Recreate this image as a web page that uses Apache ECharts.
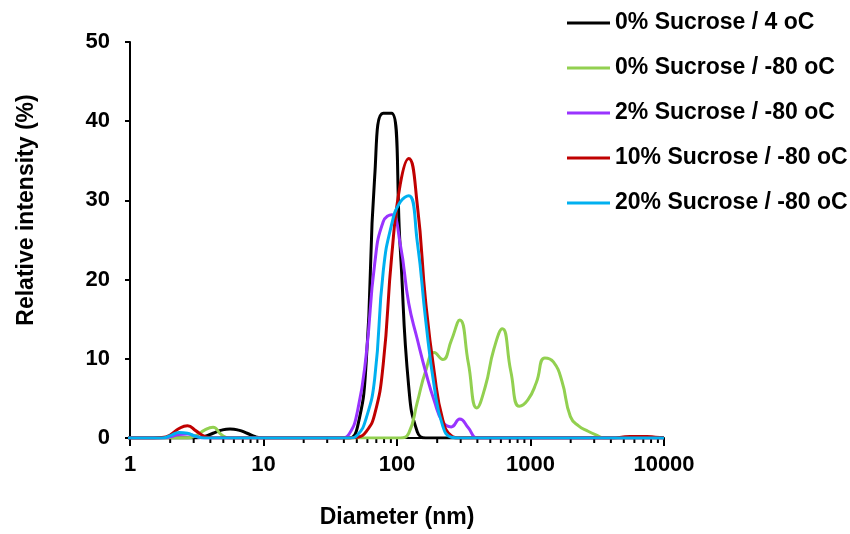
<!DOCTYPE html>
<html>
<head>
<meta charset="utf-8">
<title>Size distribution</title>
<script src="https://cdn.jsdelivr.net/npm/echarts@6/dist/echarts.min.js"></script>
<style>
  html, body { margin: 0; padding: 0; background: #fff; }
  #chart { width: 850px; height: 534px; }
</style>
</head>
<body>
<div id="chart"></div>
<script>
// size classes (nm)
var sizes = [
  0.9649, 1.117, 1.294, 1.499, 1.736, 2.01, 2.328, 2.696, 3.122, 3.615,
  4.187, 4.849, 5.615, 6.503, 7.531, 8.721, 10.1, 11.7, 13.54, 15.69,
  18.17, 21.04, 24.36, 28.21, 32.67, 37.84, 43.82, 50.75, 58.77, 68.06,
  78.82, 91.28, 105.7, 122.4, 141.8, 164.2, 190.1, 220.2, 255.0, 295.3,
  342.0, 396.1, 458.7, 531.2, 615.1, 712.4, 825.0, 955.4, 1106, 1281,
  1484, 1718, 1990, 2305, 2669, 3091, 3580, 4145, 4801, 5560,
  6439, 7456, 8635, 10000
]

// relative intensity (%)
var suc0_4C = [
  0, 0, 0, 0, 0, 0, 0, 0, 0, 0.2,
  0.6, 1.0, 1.15, 1.0, 0.6, 0.15, 0, 0, 0, 0,
  0, 0, 0, 0, 0, 0, 0, 1.5, 9.5, 33,
  41, 41, 24, 6.5, 0.8, 0, 0, 0, 0, 0,
  0, 0, 0, 0, 0, 0, 0, 0, 0, 0,
  0, 0, 0, 0, 0, 0, 0, 0, 0, 0,
  0, 0, 0, 0
]
var suc0_m80 = [
  0, 0, 0, 0, 0, 0, 0, 0, 0.3, 1.0,
  1.35, 0.4, 0, 0, 0, 0, 0, 0, 0, 0,
  0, 0, 0, 0, 0, 0, 0, 0, 0, 0,
  0, 0, 0, 0.6, 4.5, 8.5, 10.8, 9.9, 12.3, 14.9,
  9.5, 3.8, 6.5, 11.2, 13.8, 8.4, 4.0, 4.8, 7.0, 10.1,
  9.6, 7.2, 2.7, 1.5, 0.9, 0.4, 0, 0, 0, 0,
  0, 0, 0, 0
]
var suc2_m80 = [
  0, 0, 0, 0, 0, 0.15, 0.45, 0.5, 0.2, 0,
  0, 0, 0, 0, 0, 0, 0, 0, 0, 0,
  0, 0, 0, 0, 0, 0, 0.5, 3.5, 10.5, 22,
  27.3, 28.2, 24.5, 17, 12.5, 8.3, 4.7, 2.0, 1.4, 2.4,
  1.3, 0, 0, 0, 0, 0, 0, 0, 0, 0,
  0, 0, 0, 0, 0, 0, 0, 0, 0, 0,
  0, 0, 0, 0
]
var suc10_m80 = [
  0, 0, 0, 0, 0.05, 0.4, 1.2, 1.55, 0.9, 0.2,
  0, 0, 0, 0, 0, 0, 0, 0, 0, 0,
  0, 0, 0, 0, 0, 0, 0, 0.1, 0.8, 3,
  9.3, 23, 32, 35.3, 29.5, 17.1, 8.3, 2.3, 0.3, 0,
  0, 0, 0, 0, 0, 0, 0, 0, 0, 0,
  0, 0, 0, 0, 0, 0, 0, 0, 0.1, 0.2,
  0.2, 0.2, 0.1, 0.05
]
var suc20_m80 = [
  0, 0, 0, 0, 0, 0.3, 0.7, 0.6, 0.2, 0,
  0, 0, 0, 0, 0, 0, 0, 0, 0, 0,
  0, 0, 0, 0, 0, 0, 0, 0.4, 2.5, 7.5,
  21, 27, 29.8, 30.6, 24.8, 14.8, 6.5, 1.5, 0.1, 0,
  0, 0, 0, 0, 0, 0, 0, 0, 0, 0,
  0, 0, 0, 0, 0, 0, 0, 0, 0, 0,
  0, 0, 0, 0
]

var seriesNames = ['0% Sucrose / 4 oC', '0% Sucrose / -80 oC', '2% Sucrose / -80 oC', '10% Sucrose / -80 oC', '20% Sucrose / -80 oC']
var seriesData = [suc0_4C, suc0_m80, suc2_m80, suc10_m80, suc20_m80]
var seriesColors = ['#000000', '#92D050', '#9933FF', '#C00000', '#00B0F0']

var yTicks = [0, 10, 20, 30, 40, 50]
var minorTicks = [
  2, 3, 4, 5, 6, 7, 8, 9,
  20, 30, 40, 50, 60, 70, 80, 90,
  200, 300, 400, 500, 600, 700, 800, 900,
  2000, 3000, 4000, 5000, 6000, 7000, 8000, 9000
]

var font = '"Liberation Sans", Arial, sans-serif'

function pairs(values) {
  return sizes.map(function (s, i) { return [s, values[i]] })
}

var chart = echarts.init(document.getElementById('chart'), null, { renderer: 'canvas' })

var series = seriesNames.map(function (name, i) {
  return {
    name: name,
    type: 'line',
    smooth: true,
    showSymbol: false,
    color: seriesColors[i],
    lineStyle: { color: seriesColors[i], width: 3 },
    data: pairs(seriesData[i]),
    animation: false
  }
})

// small ticks between decades on the log axis
series.push({
  type: 'custom',
  silent: true,
  animation: false,
  data: minorTicks.map(function (v) { return [v, 0] }),
  renderItem: function (params, api) {
    var p = api.coord([api.value(0), 0])
    return {
      type: 'line',
      shape: { x1: p[0], y1: p[1], x2: p[0], y2: p[1] + 5 },
      style: { stroke: '#000', lineWidth: 2 }
    }
  }
})

chart.setOption({
  backgroundColor: '#fff',
  grid: {
    left: 130,
    right: 186,
    top: 42,
    bottom: 96
  },
  legend: {
    data: seriesNames,
    orient: 'vertical',
    left: 562,
    top: 6,
    icon: 'rect',
    itemWidth: 43,
    itemHeight: 3,
    itemGap: 21,
    textStyle: {
      fontFamily: font,
      fontWeight: 'bold',
      fontSize: 23,
      lineHeight: 24,
      color: '#000'
    }
  },
  xAxis: {
    type: 'log',
    logBase: 10,
    min: 1,
    max: 10000,
    name: 'Diameter (nm)',
    nameLocation: 'middle',
    nameGap: 68,
    nameTextStyle: {
      fontFamily: font,
      fontWeight: 'bold',
      fontSize: 23,
      color: '#000'
    },
    axisLine: { lineStyle: { color: '#000', width: 2 } },
    axisTick: { length: 8, lineStyle: { color: '#000', width: 2 } },
    axisLabel: {
      margin: 16,
      fontFamily: font,
      fontWeight: 'bold',
      fontSize: 22,
      color: '#000',
      formatter: function (v) { return String(Math.round(v)) }
    },
    splitLine: { show: false }
  },
  yAxis: {
    type: 'value',
    min: yTicks[0],
    max: yTicks[yTicks.length - 1],
    interval: 10,
    name: 'Relative intensity (%)',
    nameLocation: 'middle',
    nameGap: 92,
    nameTextStyle: {
      fontFamily: font,
      fontWeight: 'bold',
      fontSize: 23,
      color: '#000',
      padding: [0, 0, 0, 60]
    },
    axisLine: { show: true, lineStyle: { color: '#000', width: 2 } },
    axisTick: { show: true, length: 5, lineStyle: { color: '#000', width: 2 } },
    axisLabel: {
      margin: 20,
      fontFamily: font,
      fontWeight: 'bold',
      fontSize: 22,
      color: '#000'
    },
    splitLine: { show: false }
  },
  series: series
})
</script>
</body>
</html>
